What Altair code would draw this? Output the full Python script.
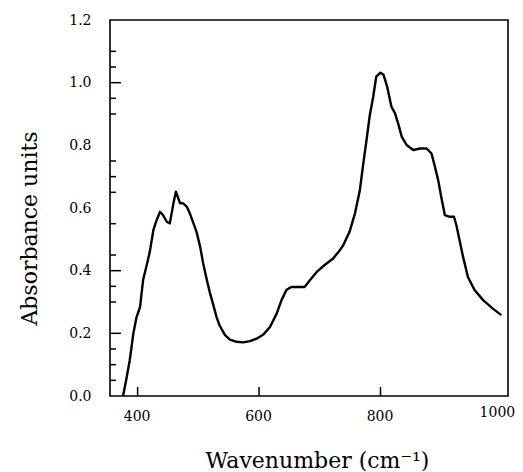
import altair as alt
import pandas as pd

# Spectrum
wavenumber = [376, 382, 387, 393, 398, 404, 409, 415, 420, 426, 431, 437, 442, 448, 453,
              459, 463, 470, 475, 481, 486, 492, 497, 503, 508, 514, 519, 524, 530, 535,
              544, 552, 563, 574, 585, 596, 607, 618, 629, 637, 645, 653, 664, 675, 684,
              695, 708, 722, 732, 738, 749, 758, 766, 771, 777, 782, 788, 793, 800, 805,
              811, 818, 824, 829, 835, 843, 854, 865, 876, 884, 889, 895, 900, 906, 914,
              921, 925, 931, 936, 944, 955, 969, 985, 999]
absorbance = [0.0, 0.06, 0.114, 0.2, 0.25, 0.284, 0.37, 0.418, 0.46, 0.53, 0.56, 0.588, 0.577, 0.556, 0.551,
              0.615, 0.652, 0.615, 0.615, 0.604, 0.583, 0.551, 0.524, 0.476, 0.423, 0.37, 0.33, 0.295, 0.252, 0.225,
              0.194, 0.18, 0.173, 0.171, 0.175, 0.183, 0.196, 0.22, 0.263, 0.306, 0.338, 0.348, 0.348, 0.348, 0.37,
              0.396, 0.418, 0.439, 0.463, 0.479, 0.524, 0.583, 0.657, 0.732, 0.817, 0.891, 0.955, 1.019, 1.032, 1.025,
              0.987, 0.923, 0.902, 0.87, 0.828, 0.801, 0.785, 0.79, 0.79, 0.774, 0.737, 0.689, 0.636, 0.577, 0.572,
              0.572, 0.545, 0.49, 0.444, 0.38, 0.338, 0.306, 0.279, 0.258]

# Axis tick values
x_label_values = [400, 600, 800, 1000]
x_tick_values = [400, 600, 800]
y_label_values = [0.0, 0.2, 0.4, 0.6, 0.8, 1.0, 1.2]
y_major_ticks = [0.2, 0.4, 1.0]
y_minor_ticks = [0.05, 0.1, 0.15, 0.3, 0.35, 0.45, 0.55, 0.65, 0.7, 0.75, 0.9, 0.95, 1.05, 1.1]

W, H = 398, 376
FONT = "DejaVu Serif"

df = pd.DataFrame({"x": wavenumber, "y": absorbance})

xscale = alt.Scale(domain=[354.5, 1010], nice=False, zero=False)
yscale = alt.Scale(domain=[0, 1.2], nice=False, zero=True)

line = alt.Chart(df).mark_line(color="black", strokeWidth=2.4, strokeJoin="round").encode(
    x=alt.X("x:Q", scale=xscale,
            axis=alt.Axis(values=x_label_values, format="d", ticks=False, domain=False, grid=False,
                          labelFont=FONT, labelFontSize=14, labelColor="black", labelFlush=False,
                          labelPadding={"condition": {"test": "datum.value == 1000", "value": 9}, "value": 13},
                          labelOffset={"condition": {"test": "datum.value == 1000", "value": -5}, "value": -1},
                          title="Wavenumber (cm\u207b\u00b9)", titleFont=FONT, titleFontSize=22,
                          titleFontWeight="normal", titleColor="black",
                          titleX=207, titleY=71, titleBaseline="alphabetic",
                          titleAlign="center")),
    y=alt.Y("y:Q", scale=yscale,
            axis=alt.Axis(values=y_label_values, format=".1f", ticks=False, domain=False, grid=False,
                          labelFont=FONT, labelFontSize=14, labelColor="black", labelPadding=19,
                          labelFlush=False,
                          title="Absorbance units", titleFont=FONT, titleFontSize=22,
                          titleFontWeight="normal", titleColor="black",
                          titleX=-74, titleY=208, titleBaseline="alphabetic", titleAngle=-90,
                          titleAlign="center")),
)

ymaj = alt.Chart(pd.DataFrame({"y": y_major_ticks})).mark_rule(color="black", strokeWidth=1.5).encode(
    y=alt.Y("y:Q", scale=yscale), x=alt.value(0), x2=alt.value(11))
ymin = alt.Chart(pd.DataFrame({"y": y_minor_ticks})).mark_rule(color="black", strokeWidth=1.5).encode(
    y=alt.Y("y:Q", scale=yscale), x=alt.value(0), x2=alt.value(6))
xt = alt.Chart(pd.DataFrame({"x": x_tick_values})).mark_rule(color="black", strokeWidth=1.5).encode(
    x=alt.X("x:Q", scale=xscale), y=alt.value(H), y2=alt.value(H - 9))

chart = alt.layer(line, ymaj, ymin, xt).properties(
    width=W, height=H,
    background="white",
    autosize=alt.AutoSizeParams(type="none"),
    padding={"left": 102, "top": 12, "right": 7, "bottom": 75},
).configure_view(stroke="black", strokeWidth=1.6)

chart.save("out.html", embed_options={"renderer": "svg", "actions": False})
